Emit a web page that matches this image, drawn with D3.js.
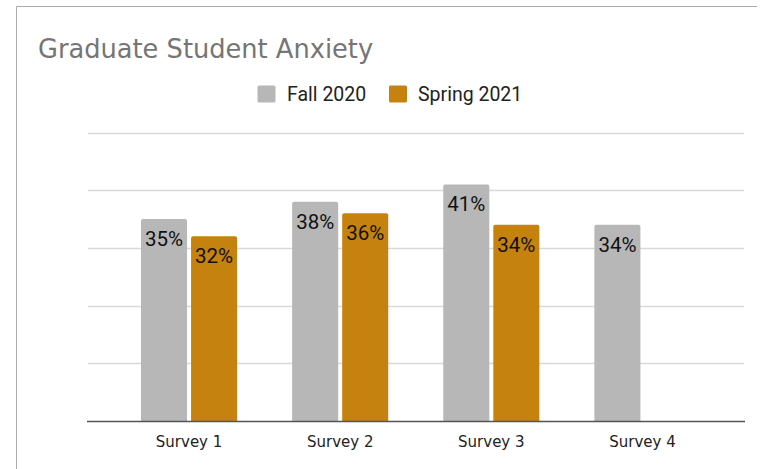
<!DOCTYPE html>
<html><head><meta charset="utf-8">
<script src="https://cdn.jsdelivr.net/npm/d3@7"></script>
<style>body{margin:0;background:#fff}svg{display:block}</style>
</head><body>
<svg id="c" width="763" height="469"></svg>
<script>
const categories = ["Survey 1","Survey 2","Survey 3","Survey 4"];
const seriesNames = ["Fall 2020","Spring 2021"];
const fall2020 = [35,38,41,34];
const spring2021 = [32,36,34,null];
const yTicks = [0,10,20,30,40,50];
const colors = ["#b7b7b7","#c5820f"];

const svg = d3.select("#c");
// frame
svg.append("path").attr("d","M16.5,469 L16.5,6.5 L757,6.5").attr("fill","none").attr("stroke","#ababab").attr("stroke-width",1);

svg.append("text").attr("x",38).attr("y",58).attr("font-family","DejaVu Sans").attr("font-size",25.7).attr("fill","#757575").text("Graduate Student Anxiety");

const y = d3.scaleLinear().domain([0,50]).range([421,132.5]);
const x = d3.scaleBand().domain(categories).range([113.5,718]).paddingInner(0.364).paddingOuter(0.182);
const xs = d3.scaleBand().domain(seriesNames).range([0,x.bandwidth()]).paddingInner(0.08);

// grid
svg.append("g").selectAll("line").data(yTicks.filter(d=>d>0)).join("line")
  .attr("x1",88).attr("x2",744).attr("y1",d=>Math.round(y(d))+0.5).attr("y2",d=>Math.round(y(d))+0.5)
  .attr("stroke","#d9d9d9").attr("stroke-width",1.5);

const data = [];
categories.forEach((c,i)=>{
  [fall2020,spring2021].forEach((arr,j)=>{ if(arr[i]!=null) data.push({c, s:seriesNames[j], v:arr[i], j}); });
});

const r = 2;
const g = svg.append("g");
g.selectAll("path").data(data).join("path")
  .attr("fill",d=>colors[d.j])
  .attr("d",d=>{
    const x0 = x(d.c)+xs(d.s), w = xs.bandwidth(), y0 = y(d.v), y1 = y(0);
    return `M${x0},${y1}V${y0+r}Q${x0},${y0} ${x0+r},${y0}H${x0+w-r}Q${x0+w},${y0} ${x0+w},${y0+r}V${y1}Z`;
  });
g.selectAll("text").data(data).join("text")
  .attr("x",d=>x(d.c)+xs(d.s)+xs.bandwidth()/2).attr("y",d=>y(d.v)+27)
  .attr("text-anchor","middle").attr("font-family","Roboto").attr("font-size",20.5).attr("fill","#111")
  .text(d=>d.v+"%");

// baseline
svg.append("line").attr("x1",87).attr("x2",745).attr("y1",421.5).attr("y2",421.5).attr("stroke","#555").attr("stroke-width",1.5);

// x axis labels
const xAxis = d3.axisBottom(x).tickSize(0).tickPadding(0);
const ax = svg.append("g").attr("transform","translate(0,447)").call(xAxis);
ax.select(".domain").remove();
ax.selectAll("text").attr("font-family","DejaVu Sans").attr("font-size",15).attr("fill","#222").attr("dy","0");

// legend
const leg = [{n:"Fall 2020",x:257.5,tx:287},{n:"Spring 2021",x:389,tx:418}];
const lg = svg.append("g");
leg.forEach((l,i)=>{
  lg.append("rect").attr("x",l.x).attr("y",85.5).attr("width",18).attr("height",17).attr("rx",1.5).attr("fill",colors[i]);
  lg.append("text").attr("x",l.tx).attr("y",101).attr("font-family","Roboto").attr("font-size",19.5).attr("fill","#222").text(l.n);
});
</script>
</body></html>
